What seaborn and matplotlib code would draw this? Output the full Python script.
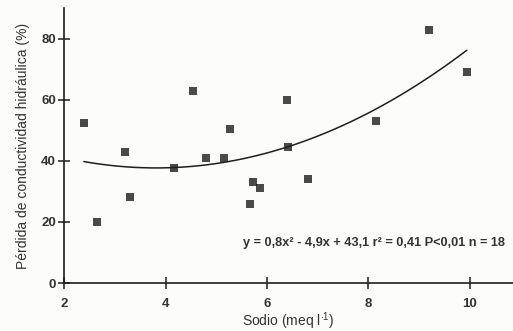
import matplotlib
matplotlib.use("Agg")
import matplotlib.pyplot as plt
import seaborn as sns
import pandas as pd

sodio = [2.39, 2.65, 3.20, 3.30, 4.17, 4.54, 4.80, 5.15, 5.27, 5.67, 5.72, 5.86,
         6.39, 6.41, 6.81, 8.15, 9.19, 9.94]
perdida = [52.5, 20.0, 43.0, 28.2, 37.7, 63.0, 41.0, 41.0, 50.5, 26.0, 33.0, 31.0,
           60.0, 44.6, 34.0, 53.0, 83.0, 69.0]
x_ticks = [2, 4, 6, 8, 10]
y_ticks = [0, 20, 40, 60, 80]
eq_text = "y = 0,8x\u00b2 - 4,9x + 43,1 r\u00b2 = 0,41 P<0,01 n = 18"

df = pd.DataFrame({"Sodio": sodio, "Perdida": perdida})

sns.set_style("ticks")
plt.rcParams["font.family"] = ["Liberation Sans", "DejaVu Sans"]
plt.rcParams["mathtext.fontset"] = "custom"
plt.rcParams["mathtext.rm"] = "Liberation Sans"
plt.rcParams["mathtext.it"] = "Liberation Sans"

ink = "#1e1e1e"
fig = plt.figure(figsize=(5.13, 3.31), dpi=100, facecolor="#fcfcfa")
ax = fig.add_axes([0.125, 0.145, 0.875, 0.83])
ax.set_facecolor("#fcfcfa")

sns.regplot(data=df, x="Sodio", y="Perdida", order=2, ci=None, truncate=True,
            ax=ax, marker="s",
            scatter_kws={"s": 26, "color": ink, "linewidths": 0},
            line_kws={"color": ink, "lw": 1.1})

ax.set_xlim(2, 10.85)
ax.set_ylim(0, 90)
ax.set_xticks(x_ticks)
ax.set_yticks(y_ticks)
sns.despine(ax=ax)
for s in ["left", "bottom"]:
    ax.spines[s].set_color(ink)
    ax.spines[s].set_linewidth(1.2)
ax.tick_params(axis="both", direction="inout", length=8, width=1.1, colors=ink,
               labelsize=9.5)
ax.tick_params(axis="x", pad=7)
ax.tick_params(axis="y", pad=2)
for lab in ax.get_xticklabels() + ax.get_yticklabels():
    lab.set_fontweight("bold")
    lab.set_color("#333333")

ax.set_xlabel("Sodio (meq l$^{\\cdot 1}$)", fontsize=10, color="#333333", labelpad=0)
ax.set_ylabel("Pérdida de conductividad hidráulica (%)", fontsize=10,
              color="#333333", labelpad=8)

ax.text(0.474, 0.266, eq_text, transform=fig.transFigure, fontsize=9.2,
        fontweight="bold", color="#333333", ha="left", va="center")

fig.savefig("out.png", dpi=100, facecolor=fig.get_facecolor())
